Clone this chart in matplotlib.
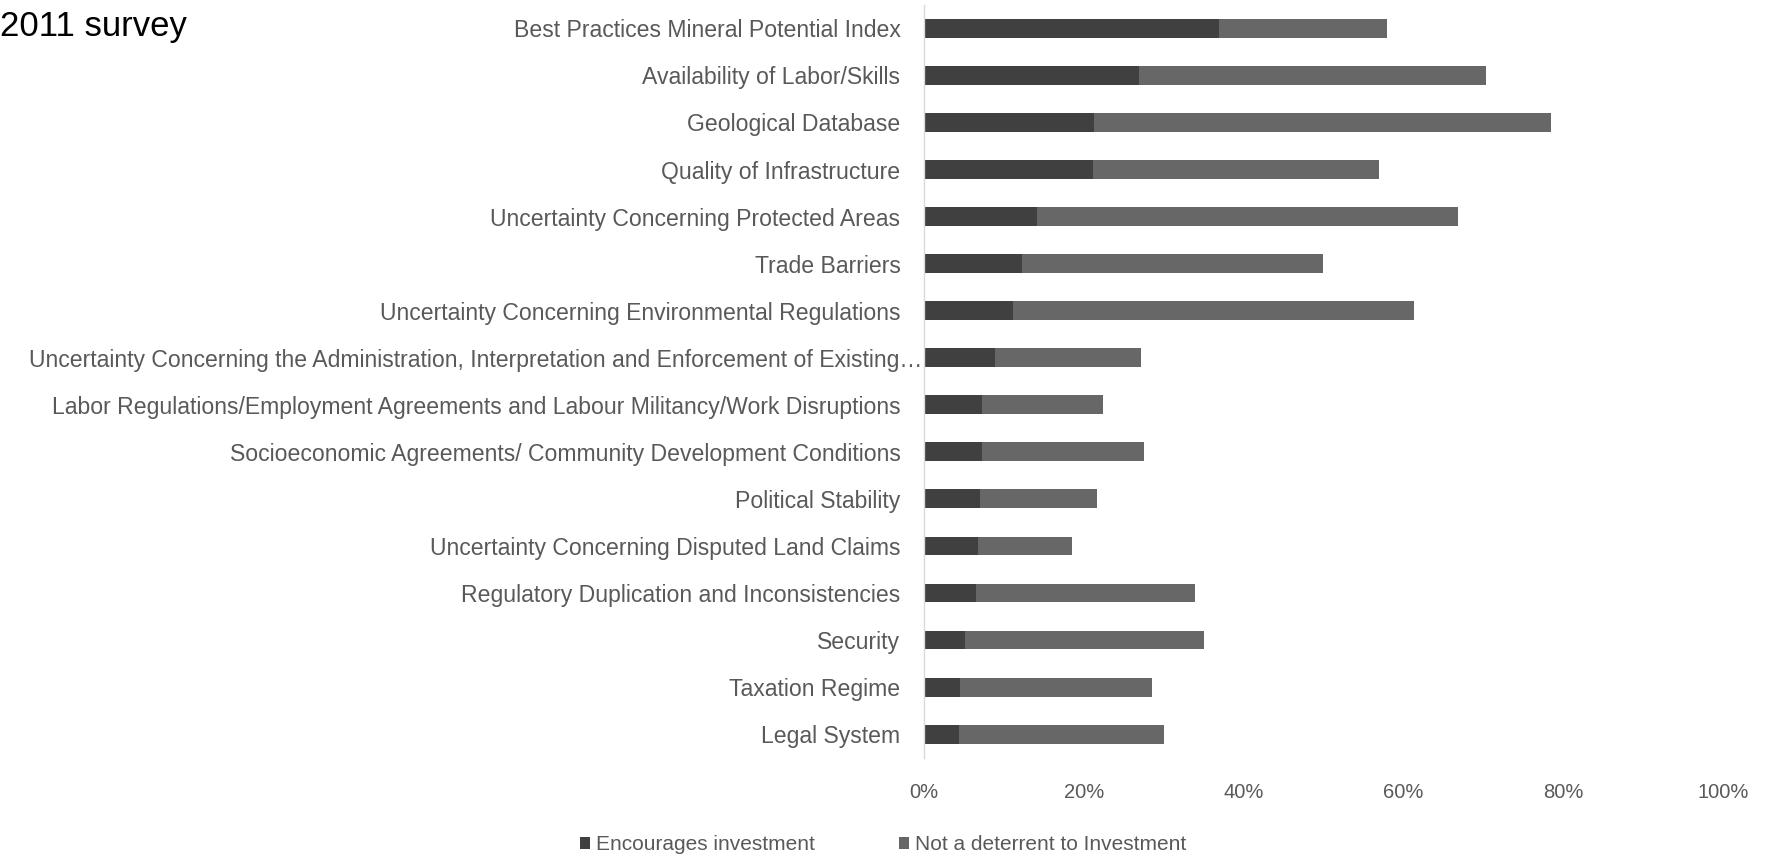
import matplotlib
matplotlib.use("Agg")
import matplotlib.pyplot as plt
import matplotlib.transforms as mtransforms
from matplotlib.ticker import FuncFormatter

categories = [
    "Best Practices Mineral Potential Index",
    "Availability of Labor/Skills",
    "Geological Database",
    "Quality of Infrastructure",
    "Uncertainty Concerning Protected Areas",
    "Trade Barriers",
    "Uncertainty Concerning Environmental Regulations",
    "Uncertainty Concerning the Administration, Interpretation and Enforcement of Existing…",
    "Labor Regulations/Employment Agreements and Labour Militancy/Work Disruptions",
    "Socioeconomic Agreements/ Community Development Conditions",
    "Political Stability",
    "Uncertainty Concerning Disputed Land Claims",
    "Regulatory Duplication and Inconsistencies",
    "Security",
    "Taxation Regime",
    "Legal System",
]
encourages = [36.9, 26.9, 21.3, 21.1, 14.1, 12.3, 11.1, 8.9, 7.2, 7.2, 7.0, 6.8, 6.5, 5.1, 4.5, 4.4]
totals = [58.0, 70.3, 78.5, 57.0, 66.8, 50.0, 61.3, 27.2, 22.4, 27.5, 21.7, 18.5, 33.9, 35.1, 28.5, 30.1]
not_deterrent = [t - e for t, e in zip(totals, encourages)]
series_names = ["Encourages investment", "Not a deterrent to Investment"]
xticks = [0, 20, 40, 60, 80, 100]

font = ["Liberation Sans", "DejaVu Sans"]

fig = plt.figure(figsize=(17.77, 8.61), dpi=100)
ax = fig.add_axes([0.520, 0.120, 0.4495, 0.8744])

y = list(range(len(categories)))
dark = "#404040"
light = "#676767"
ax.barh(y, encourages, height=0.4, color=dark, label=series_names[0])
ax.barh(y, not_deterrent, left=encourages, height=0.4, color=light, label=series_names[1])

ax.set_ylim(len(categories) - 0.5, -0.5)
ax.set_xlim(0, 100)
ax.set_yticks(y)
ax.set_yticklabels(categories, fontsize=16.6, color="#595959", family=font)
ax.set_xticks(xticks)
ax.xaxis.set_major_formatter(FuncFormatter(lambda v, p: f"{int(v)}%"))
for lab in ax.get_xticklabels():
    lab.set_fontsize(14.5)
    lab.set_color("#595959")
    lab.set_family(font)
ax.tick_params(axis="both", length=0)
ax.tick_params(axis="x", pad=18)
ax.tick_params(axis="y", pad=17)
for s in ["top", "right", "bottom"]:
    ax.spines[s].set_visible(False)
ax.spines["left"].set_color("#d9d9d9")
ax.spines["left"].set_linewidth(1.0)

# the truncated long label sits closer to the axis
for lab in ax.get_yticklabels():
    if lab.get_text().endswith("…"):
        lab.set_transform(lab.get_transform() +
                          mtransforms.ScaledTranslation(16 / 72, 0, fig.dpi_scale_trans))

fig.text(0.0, 0.969, "2011 survey", fontsize=25, color="black",
         family=font, va="center", ha="left")

leg = fig.legend(loc="center", bbox_to_anchor=(0.497, 0.019), ncol=2, frameon=False,
                 handlelength=0.5, handleheight=0.5, handletextpad=0.3, columnspacing=4.0,
                 prop={"family": font, "size": 15})
for t in leg.get_texts():
    t.set_color("#595959")

fig.savefig("out.png", dpi=100)
